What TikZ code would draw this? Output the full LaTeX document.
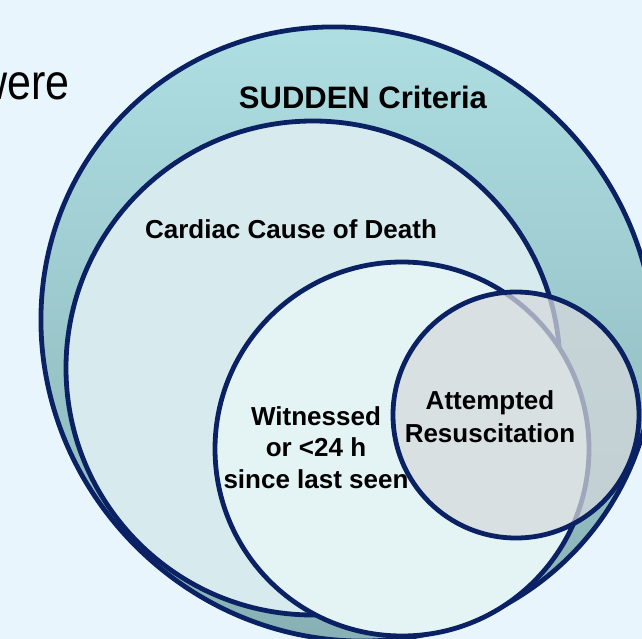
\documentclass[tikz,border=0pt]{standalone}
\usepackage{fontspec}
\setmainfont{Liberation Sans}
\usetikzlibrary{shadows,shapes.geometric}
\definecolor{bgc}{HTML}{E8F5FD}
\definecolor{navy}{HTML}{0A2264}
\definecolor{tealtop}{HTML}{B0E1E5}
\definecolor{tealbot}{HTML}{86AEB2}
\definecolor{cardfill}{HTML}{D7EBEE}
\definecolor{witfill}{HTML}{E4F3F3}
\definecolor{attfill}{HTML}{D6D9DC}
\begin{document}
\begin{tikzpicture}[x=1pt,y=-1pt,
  ring/.style={draw=navy,line width=4.8pt,inner sep=0pt},
  softshadow/.style={drop shadow={shadow xshift=1.5pt,shadow yshift=-2pt,opacity=0.15}},
  lbl/.style={font=\bfseries\fontsize{26}{31}\selectfont,inner sep=0pt,anchor=base,text=black}]
\useasboundingbox (0,0) rectangle (642,639);
\clip (0,0) rectangle (642,639);
\fill[bgc] (0,0) rectangle (642,639);

\node[inner sep=0pt,anchor=base east,font=\fontsize{50}{54}\selectfont,xscale=0.86] (were) at (70,100) {were};

\node[ring,ellipse,softshadow,minimum width=628pt,minimum height=600pt,rotate=-45,
      top color=tealtop,bottom color=tealbot] (sudden) at (348,334) {};
\node[ring,circle,softshadow,minimum size=494pt,fill=cardfill] (cardiac) at (313,368) {};
\node[ring,circle,softshadow,minimum size=374pt,fill=witfill] (witnessed) at (402,449) {};
\node[ring,circle,minimum size=246pt,fill=attfill,fill opacity=0.73] (attempted) at (516,415) {};

\node[lbl,font=\bfseries\fontsize{31}{36}\selectfont] (tsudden) at (363,109) {SUDDEN Criteria};
\node[lbl] (tcardiac) at (291,238) {Cardiac Cause of Death};
\node[lbl] (tw1) at (316,425) {Witnessed};
\node[lbl] (tw2) at (316,456) {or <24 h};
\node[lbl] (tw3) at (316,488) {since last seen};
\node[lbl] (ta1) at (490,409) {Attempted};
\node[lbl] (ta2) at (490,442) {Resuscitation};
\end{tikzpicture}
\end{document}
